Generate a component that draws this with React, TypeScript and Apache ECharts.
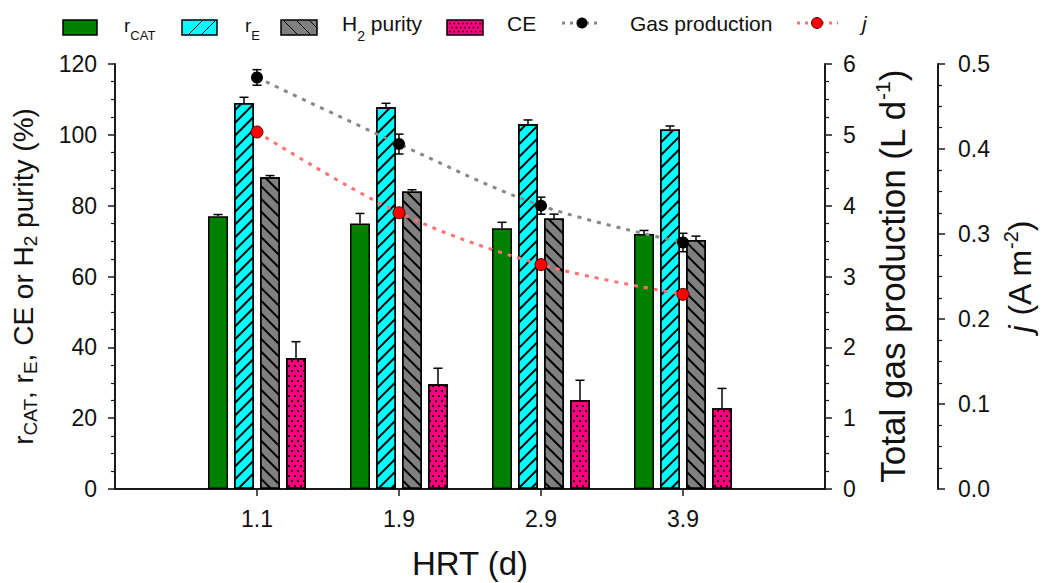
import React, { useEffect, useRef } from 'react';
import * as echarts from 'echarts';

// ---- data ----
const hrt = ['1.1', '1.9', '2.9', '3.9'];
const rCat = [77, 75, 73.6, 72];
const rCatErr = [0.5, 2.8, 1.7, 1.0];
const rE = [109, 107.8, 103, 101.5];
const rEErr = [1.6, 1.1, 1.2, 1.0];
const h2Purity = [88, 84, 76.4, 70.3];
const h2PurityErr = [0.5, 0.5, 1.2, 1.1];
const ce = [37, 29.6, 25.1, 22.8];
const ceErr = [4.6, 4.5, 5.6, 5.6];
const gasProd = [5.81, 4.87, 4.0, 3.48];
const gasProdErr = [0.11, 0.14, 0.12, 0.13];
const jDensity = [0.42, 0.325, 0.264, 0.229];

const leftAxisRange = [0, 120, 20];
const gasAxisRange = [0, 6, 1];
const jAxisRange = [0, 0.5, 0.1];

const FONT = '"Liberation Sans", Arial, sans-serif';
const AX = '#1a1a1a';
const TXT = '#111';
const BAR_W = 20;
const BAR_GAP = 6;

const cats = ['', ...hrt, ''];
const pad = (a: number[]) => ['-', ...a, '-'];

const barSets = [
  { vals: rCat, errs: rCatErr },
  { vals: rE, errs: rEErr },
  { vals: h2Purity, errs: h2PurityErr },
  { vals: ce, errs: ceErr },
];

const barErrData: number[][] = [];
barSets.forEach((s, k) => s.vals.forEach((v, i) => barErrData.push([i + 1, v, s.errs[i], k])));
const gasErrData = gasProd.map((v, i) => [i + 1, v, gasProdErr[i]]);

function legendGraphics() {
  const els: any[] = [];
  const y0 = 20, h = 15;
  const rect = (x: number, w: number, fill: string) =>
    els.push({ type: 'rect', shape: { x, y: y0, width: w, height: h }, style: { fill, stroke: '#000', lineWidth: 1.5 }, z: 10 });
  const ln = (x1: number, y1: number, x2: number, y2: number, stroke = '#000', lw = 1, dash?: number[]) =>
    els.push({ type: 'line', shape: { x1, y1, x2, y2 }, style: { stroke, lineWidth: lw, lineDash: dash }, z: 11 });
  const txt = (x: number, y: number, text: string, rich?: any, extra: any = {}) =>
    els.push({ type: 'text', x, y, z: 11, style: { text, fontSize: 21, fontFamily: FONT, fill: TXT, align: 'left', verticalAlign: 'middle', textAlign: 'left', textVerticalAlign: 'middle', rich, ...extra } });

  const subRich = {
    a: { fontSize: 19, lineHeight: 34, fontFamily: FONT, fill: TXT, color: TXT },
    b: { fontSize: 13, lineHeight: 13, verticalAlign: 'bottom', fontFamily: FONT, fill: TXT, color: TXT },
  };
  const subRich2 = {
    a: { fontSize: 21, lineHeight: 40, fontFamily: FONT, fill: TXT, color: TXT },
    b: { fontSize: 14, lineHeight: 14, verticalAlign: 'bottom', fontFamily: FONT, fill: TXT, color: TXT },
  };

  // r_CAT
  rect(63, 34, '#008000');
  txt(124, 25, '{a|r}{b|CAT}', subRich);
  // r_E
  rect(182, 35, '#00ffff');
  ln(189, 34, 202, 21); ln(202, 34, 215, 21);
  txt(245, 25, '{a|r}{b|E}', subRich);
  // H2 purity
  rect(281, 36, '#808080');
  ln(284, 21, 297, 34); ln(297, 21, 310, 34); ln(310, 21, 316, 27);
  txt(342, 23, '{a|H}{b|2}{a| purity}', subRich2);
  // CE
  rect(447, 36, '#ff0080');
  for (let r = 0; r < 3; r++) {
    for (let c = 0; c < 8; c++) {
      const cx = 450 + c * 4.3 + (r % 2) * 2.1;
      if (cx > 481) continue;
      els.push({ type: 'circle', shape: { cx, cy: 23.5 + r * 4, r: 0.8 }, style: { fill: '#000' }, z: 11 });
    }
  }
  txt(507, 23, 'CE');
  // Gas production
  ln(562, 23, 602, 23, '#888', 3, [3, 5]);
  els.push({ type: 'circle', shape: { cx: 582, cy: 23, r: 5.5 }, style: { fill: '#000' }, z: 12 });
  txt(630, 23, 'Gas production');
  // j
  ln(797, 23, 838, 23, '#ff7070', 3, [3, 5]);
  els.push({ type: 'circle', shape: { cx: 817, cy: 23, r: 5.5 }, style: { fill: '#ff0000', stroke: '#500', lineWidth: 1 }, z: 12 });
  txt(862, 23, 'j', undefined, { fontStyle: 'italic' });
  return els;
}

const axisCommon = {
  axisLine: { show: true, lineStyle: { color: AX, width: 2 } },
  splitLine: { show: false },
  minorSplitLine: { show: false },
};

export default function App() {
  const ref = useRef<HTMLDivElement>(null);
  useEffect(() => {
    if (!ref.current) return;
    const chart = echarts.init(ref.current, null, { renderer: 'svg' });

    const barColors = ['#008000', '#00ffff', '#808080', '#ff0080'];
    const decals: any[] = [
      undefined,
      { symbol: 'rect', symbolSize: 1, color: '#000', dashArrayX: [1, 0], dashArrayY: [1.2, 6.6], rotation: -Math.PI / 4 },
      { symbol: 'rect', symbolSize: 1, color: '#000', dashArrayX: [1, 0], dashArrayY: [1.2, 6.6], rotation: Math.PI / 4 },
      { symbol: 'circle', symbolSize: 1, color: '#000', dashArrayX: [[1.6, 3.4], [0, 2.5, 1.6, 0.9]], dashArrayY: [1.6, 2.4], rotation: 0 },
    ];
    const barNames = ['rCAT', 'rE', 'H2 purity', 'CE'];

    const barSeries = barSets.map((s, k) => ({
      type: 'bar',
      name: barNames[k],
      xAxisIndex: 0,
      yAxisIndex: 0,
      data: pad(s.vals),
      barWidth: BAR_W,
      barGap: `${(BAR_GAP / BAR_W) * 100}%`,
      z: 2,
      itemStyle: { color: barColors[k], borderColor: '#000', borderWidth: 1.5, decal: decals[k] },
    }));

    const option: any = {
      animation: false,
      backgroundColor: '#fff',
      textStyle: { fontFamily: FONT },
      grid: { left: 115, right: 221, top: 64, bottom: 94, containLabel: false, outerBoundsMode: 'none' },
      graphic: { elements: legendGraphics() },
      xAxis: [
        {
          type: 'category',
          data: cats,
          boundaryGap: false,
          position: 'bottom',
          ...axisCommon,
          axisTick: { show: true, interval: (_i: number, v: string) => v !== '', length: 7, lineStyle: { color: AX, width: 1.5 } },
          axisLabel: { interval: 0, fontSize: 23, color: TXT, margin: 18, fontFamily: FONT },
          name: 'HRT (d)',
          nameLocation: 'middle',
          nameGap: 58,
          nameTextStyle: { fontSize: 33, color: TXT, fontFamily: FONT },
        },
        {
          type: 'category',
          data: cats,
          boundaryGap: false,
          position: 'top',
          ...axisCommon,
          axisTick: { show: false },
          axisLabel: { show: false },
        },
      ],
      yAxis: [
        {
          type: 'value',
          position: 'left',
          min: leftAxisRange[0],
          max: leftAxisRange[1],
          interval: leftAxisRange[2],
          ...axisCommon,
          axisTick: { show: true, length: 7, lineStyle: { color: AX, width: 1.5 } },
          minorTick: { show: true, splitNumber: 4, length: 4, lineStyle: { color: AX, width: 1.2 } },
          axisLabel: { fontSize: 23, color: TXT, margin: 18, fontFamily: FONT },
          name: '{r|r}{s|CAT}{r|, r}{s|E}{r|, CE or H}{s|2}{r| purity (%)}',
          nameLocation: 'middle',
          nameGap: 75,
          nameTextStyle: {
            fontFamily: FONT,
            rich: {
              r: { fontSize: 28, lineHeight: 34, color: TXT, fontFamily: FONT },
              s: { fontSize: 19, lineHeight: 17, verticalAlign: 'bottom', color: TXT, fontFamily: FONT },
            },
          },
        },
        {
          type: 'value',
          position: 'right',
          offset: 0,
          min: gasAxisRange[0],
          max: gasAxisRange[1],
          interval: gasAxisRange[2],
          ...axisCommon,
          axisTick: { show: true, length: 7, lineStyle: { color: AX, width: 1.5 } },
          minorTick: { show: true, splitNumber: 4, length: 4, lineStyle: { color: AX, width: 1.2 } },
          axisLabel: { fontSize: 23, color: TXT, margin: 18, fontFamily: FONT },
          name: '{r|Total gas production (L d}{u|-1}{r|)}',
          nameLocation: 'middle',
          nameGap: 47,
          nameTextStyle: {
            fontFamily: FONT,
            rich: {
              r: { fontSize: 35, lineHeight: 40, color: TXT, fontFamily: FONT },
              u: { fontSize: 21, lineHeight: 19, verticalAlign: 'top', color: TXT, fontFamily: FONT },
            },
          },
        },
        {
          type: 'value',
          position: 'right',
          offset: 113,
          min: jAxisRange[0],
          max: jAxisRange[1],
          interval: jAxisRange[2],
          ...axisCommon,
          axisTick: { show: true, length: 7, lineStyle: { color: AX, width: 1.5 } },
          minorTick: { show: true, splitNumber: 4, length: 4, lineStyle: { color: AX, width: 1.2 } },
          axisLabel: { fontSize: 23, color: TXT, margin: 20, fontFamily: FONT, formatter: (v: number) => v.toFixed(1) },
          name: '{i|j}{r| (A m}{u|-2}{r|)}',
          nameLocation: 'middle',
          nameGap: 62,
          nameTextStyle: {
            fontFamily: FONT,
            rich: {
              i: { fontSize: 32, lineHeight: 38, fontStyle: 'italic', color: TXT, fontFamily: FONT },
              r: { fontSize: 32, lineHeight: 38, color: TXT, fontFamily: FONT },
              u: { fontSize: 20, lineHeight: 18, verticalAlign: 'top', color: TXT, fontFamily: FONT },
            },
          },
        },
      ],
      series: [
        ...barSeries,
        {
          type: 'custom',
          name: 'bar errors',
          xAxisIndex: 0,
          yAxisIndex: 0,
          z: 3,
          data: barErrData,
          renderItem: (_p: any, api: any) => {
            const x = api.value(0), v = api.value(1), e = api.value(2), k = api.value(3);
            const base = api.coord([x, v]);
            const top = api.coord([x, v + e]);
            const cx = base[0] + (k - 1.5) * (BAR_W + BAR_GAP);
            const st = { stroke: '#000', lineWidth: 1.5 };
            return {
              type: 'group',
              children: [
                { type: 'line', shape: { x1: cx, y1: base[1], x2: cx, y2: top[1] }, style: st },
                { type: 'line', shape: { x1: cx - 4.5, y1: top[1], x2: cx + 4.5, y2: top[1] }, style: st },
              ],
            };
          },
        },
        {
          type: 'line',
          name: 'Gas production',
          xAxisIndex: 0,
          yAxisIndex: 1,
          data: pad(gasProd),
          smooth: 0.35,
          symbol: 'circle',
          symbolSize: 12,
          z: 6,
          itemStyle: { color: '#000' },
          lineStyle: { color: '#888', width: 3, type: [4, 6] },
        },
        {
          type: 'custom',
          name: 'gas errors',
          xAxisIndex: 0,
          yAxisIndex: 1,
          z: 5,
          data: gasErrData,
          renderItem: (_p: any, api: any) => {
            const x = api.value(0), v = api.value(1), e = api.value(2);
            const hi = api.coord([x, v + e]);
            const lo = api.coord([x, v - e]);
            const st = { stroke: '#000', lineWidth: 1.5 };
            return {
              type: 'group',
              children: [
                { type: 'line', shape: { x1: hi[0], y1: hi[1], x2: lo[0], y2: lo[1] }, style: st },
                { type: 'line', shape: { x1: hi[0] - 4.5, y1: hi[1], x2: hi[0] + 4.5, y2: hi[1] }, style: st },
                { type: 'line', shape: { x1: lo[0] - 4.5, y1: lo[1], x2: lo[0] + 4.5, y2: lo[1] }, style: st },
              ],
            };
          },
        },
        {
          type: 'line',
          name: 'j',
          xAxisIndex: 0,
          yAxisIndex: 2,
          data: pad(jDensity),
          smooth: 0.35,
          symbol: 'circle',
          symbolSize: 12,
          z: 6,
          itemStyle: { color: '#ff0000', borderColor: '#500', borderWidth: 1 },
          lineStyle: { color: '#ff7070', width: 3, type: [4, 6] },
        },
      ],
    };

    chart.setOption(option);
    return () => chart.dispose();
  }, []);

  return <div ref={ref} style={{ position: 'absolute', left: 0, top: 0, width: 1046, height: 583 }} />;
}
